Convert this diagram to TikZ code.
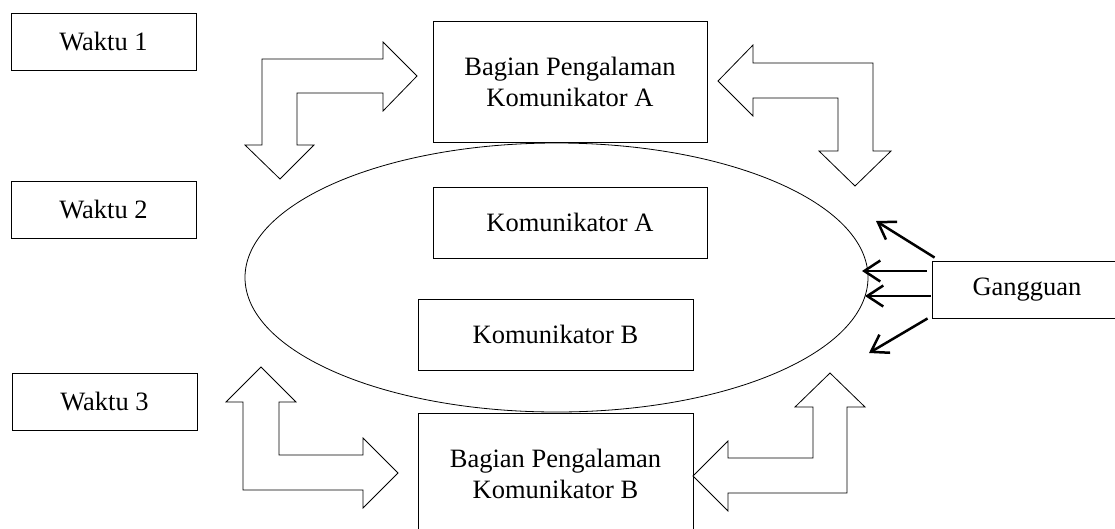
\documentclass[tikz,border=0pt]{standalone}
\usepackage{fontspec}
\setmainfont{Liberation Serif}
\usetikzlibrary{arrows.meta,shapes.geometric}
\begin{document}
\begin{tikzpicture}[x=1pt,y=-1pt,>={Straight Barb[length=16pt,width=21pt]},
		font=\fontsize{26.5}{31}\selectfont,
		kotak/.style={draw,line width=0.9pt,inner sep=0pt,align=center},
		panah/.style={draw,fill=white,line width=0.8pt,line join=miter},
		gangg/.style={->,line width=2.5pt}]
	\useasboundingbox (0,0) rectangle (1115,528);
	\clip (0,0) rectangle (1115,528);
	% waktu
	\node[kotak,minimum width=185pt,minimum height=57pt] (w1) at (103.5,41.5) {Waktu 1};
	\node[kotak,minimum width=185pt,minimum height=57pt] (w2) at (103.5,209.5) {Waktu 2};
	\node[kotak,minimum width=185pt,minimum height=57pt] (w3) at (104.5,401.5) {Waktu 3};
	% lingkup komunikasi
	\node[draw,ellipse,line width=0.8pt,inner sep=0pt,minimum width=623pt,minimum height=269pt] (ruang) at (556.5,277.5) {};
	\node[kotak,minimum width=274pt,minimum height=71pt] (ka) at (570,222.5) {Komunikator A};
	\node[kotak,minimum width=275pt,minimum height=71pt] (kb) at (555.5,334.5) {Komunikator B};
	% pengalaman
	\node[kotak,minimum width=274pt,minimum height=121pt] (pa) at (570,81.5) {Bagian Pengalaman\\Komunikator A};
	\node[kotak,minimum width=275pt,minimum height=121pt] (pb) at (555.5,473.5) {Bagian Pengalaman\\Komunikator B};
	% panah blok
	\draw[panah] (262,59) -- (383,59) -- (383,42) -- (417,76) -- (383,111) -- (383,93) -- (297,93) -- (297,145) -- (314,145) -- (280,179) -- (245,145) -- (262,145) -- cycle;
	\draw[panah] (718,81) -- (753,45) -- (753,63) -- (873,63) -- (873,151) -- (891,151) -- (855,186) -- (819,151) -- (838,151) -- (838,98) -- (753,98) -- (753,116) -- cycle;
	\draw[panah] (261,367) -- (296,402) -- (279,402) -- (279,455) -- (363,455) -- (363,438) -- (398,473) -- (363,508) -- (363,490) -- (243,490) -- (243,402) -- (226,402) -- cycle;
	\draw[panah] (830,373) -- (865,407) -- (847,407) -- (847,493) -- (728,493) -- (728,511) -- (693,476) -- (728,441) -- (728,458) -- (813,458) -- (813,407) -- (795,407) -- cycle;
	% gangguan
	\node[kotak,minimum width=190pt,minimum height=57pt] (gg) at (1027,289.5) {Gangguan};
	\coordinate (g1) at (876,221);
	\coordinate (g2) at (862,271);
	\coordinate (g3) at (865,296);
	\coordinate (g4) at (869,353);
	\draw[gangg] ([xshift=3pt,yshift=3pt]gg.north west) -- (g1);
	\draw[gangg] ([xshift=-5pt,yshift=18.5pt]gg.west) -- (g2);
	\draw[gangg] ([xshift=-1pt,yshift=-6.5pt]gg.west) -- (g3);
	\draw[gangg] ([xshift=-4pt]gg.south west) -- (g4);
\end{tikzpicture}
\end{document}
